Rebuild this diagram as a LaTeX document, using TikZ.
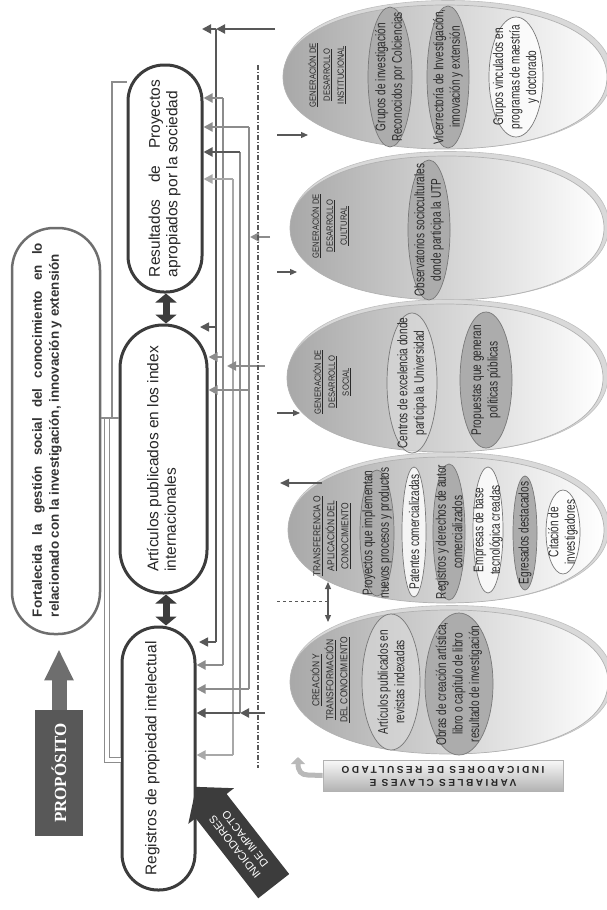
\documentclass[tikz,border=0pt]{standalone}
\usepackage{fontspec}
\setmainfont{Liberation Sans}
\newfontfamily\narrowf[FakeStretch=0.72]{Liberation Sans}
\newfontfamily\labelf[FakeStretch=0.85]{Liberation Sans}
\newfontfamily\serifbf{Liberation Serif}
\newfontfamily\spacedf[LetterSpace=25]{Liberation Sans}
\usetikzlibrary{arrows.meta,shapes.arrows}
\definecolor{dk}{HTML}{3C3C3C}
\definecolor{md}{HTML}{585858}
\definecolor{ln}{HTML}{8C8C8C}
\definecolor{lt}{HTML}{A8A8A8}
\definecolor{ingray}{HTML}{ACACAC}
\definecolor{inbord}{HTML}{787878}
\definecolor{propc}{HTML}{585858}
\definecolor{boxb}{HTML}{6E6E6E}
\definecolor{txt}{HTML}{2A2A2A}
\newcommand\fatell[5]{%
  \pgfmathsetmacro\fcx{#2}\pgfmathsetmacro\fcy{#3}%
  \pgfmathsetmacro\frx{#4}\pgfmathsetmacro\fry{#5}%
  \pgfmathsetmacro\fkx{0.6*\frx}\pgfmathsetmacro\fky{0.6*\fry}%
  \path[#1] (\fcx-\frx,\fcy)
    .. controls (\fcx-\frx,\fcy-\fky) and (\fcx-\fkx,\fcy-\fry) .. (\fcx,\fcy-\fry)
    .. controls (\fcx+\fkx,\fcy-\fry) and (\fcx+\frx,\fcy-\fky) .. (\fcx+\frx,\fcy)
    .. controls (\fcx+\frx,\fcy+\fky) and (\fcx+\fkx,\fcy+\fry) .. (\fcx,\fcy+\fry)
    .. controls (\fcx-\fkx,\fcy+\fry) and (\fcx-\frx,\fcy+\fky) .. (\fcx-\frx,\fcy) -- cycle;}
\newcommand\bigell[4]{%
  \fatell{fill=gray!30, draw=gray!50, line width=0.6pt}{#1+3}{#2-2.5}{#3+2}{#4+2}%
  \fatell{left color=gray!68, middle color=gray!14, right color=white, draw=gray!60, line width=0.7pt}{#1}{#2}{#3}{#4}}
\begin{document}
\begin{tikzpicture}[x=1pt,y=-1pt,
  mainbox/.style={draw=dk, line width=3pt, fill=white, inner sep=0pt, font=\fontsize{15.5}{17.5}\selectfont, text=black!85},
  bus/.style={draw=#1, line width=1.1pt}, bus/.default=ln,
  harrow/.style={draw=#1, line width=2pt, -{Triangle[length=9pt,width=9pt]}}, harrow/.default=ln,
  sarrow/.style={draw=md, line width=1.2pt, -{Triangle[length=7pt,width=6pt]}},
  ingr/.style={fill=ingray, draw=inbord, line width=0.7pt},
  inwh/.style={fill=white, fill opacity=0.8, draw=inbord, line width=0.7pt},
  inlt/.style={fill=gray!28, fill opacity=0.6, draw=inbord, line width=0.7pt},
  intext/.style={rotate=90, align=center, inner sep=0pt, text=txt, font=\narrowf\fontsize{14}{16.5}\selectfont},
  labtext/.style={rotate=90, align=center, inner sep=0pt, text=txt, font=\labelf\fontsize{#1}{14}\selectfont},
]
\useasboundingbox (0,0) rectangle (607,910);

% ---------- big ellipses ----------
\bigell{445}{77}{162}{72}
\bigell{447}{228}{157}{72}
\bigell{445}{378}{158}{74}
\bigell{446}{530}{158}{73}
\bigell{449}{682}{159}{72}

% ---------- inner ellipses ----------
\foreach \nm/\cx/\cy/\rx/\ry/\st/\tx in {
  e1/390/77/22/70/ingr/{Grupos de investigación\\Reconocidos por Colciencias},
  e2/448/77/21/71/ingr/{Vicerrectoría de Investigación,\\innovación y extensión},
  e3/516/77/27/60/inwh/{Grupos vinculados en\\programas de maestría\\y doctorado},
  e4/429/230/21/70/ingr/{Observatorios socioculturales\\donde participa la UTP},
  e5/412/383/25/70/inlt/{Centros de excelencia donde\\participa la Universidad},
  e6/486/380/26/68/ingr/{Propuestas que generan\\políticas públicas},
  e7/377/533/17/63/ingr/{Proyectos que implementan\\nuevos procesos y productos},
  e8/414/532/12/65/inwh/{Patentes comercializadas},
  e9/449/532/16/68/ingr/{Registros y derechos de autor\\comercializados},
  e10/488/530/15/63/inwh/{Empresas de base\\tecnológica creadas},
  e11/525/533/12/57/ingr/{Egresados destacados},
  e12/563/532/17/42/inwh/{Citación de\\investigadores},
  e13/391/682/29/68/inlt/{Artículos publicados en\\revistas indexadas},
  e14/459/684/34/71/ingr/{Obras de creación artística,\\libro o capítulo de libro\\resultado de investigación}}
{\draw[\st] (\cx,\cy) ellipse [x radius=\rx pt, y radius=\ry pt];
 \node[intext] (\nm) at (\cx,\cy) {\tx};}

% ---------- ellipse labels ----------
\node[labtext=9] (l1) at (327,75) {\underline{GENERACIÓN DE}\\\underline{DESARROLLO}\\\underline{INSTITUCIONAL}};
\node[labtext=9] (l2) at (330,226) {\underline{GENERACIÓN DE}\\\underline{DESARROLLO}\\\underline{CULTURAL}};
\node[labtext=9] (l3) at (332,382) {\underline{GENERACIÓN DE}\\\underline{DESARROLLO}\\\underline{SOCIAL}};
\node[labtext=10] (l4) at (332,536) {\underline{TRANSFERENCIA O}\\\underline{APLICACIÓN DEL}\\\underline{CONOCIMIENTO}};
\node[labtext=10] (l5) at (330,680) {\underline{CREACIÓN Y}\\\underline{TRANSFORMACIÓN}\\\underline{DEL CONOCIMIENTO}};

% ---------- main nodes ----------
\node[draw=boxb, line width=2.5pt, fill=white, rounded corners=42pt, minimum width=88pt, minimum height=406pt, inner sep=0pt] (fort) at (56,431) {};
\node[inner sep=0pt, text=black!80, font=\bfseries\fontsize{13.4}{17}\selectfont] (forttxt) at (47,430)
  {\rotatebox{90}{\begin{tabular}{@{}l@{}}\hbox to 374pt{Fortalecida\hfill la\hfill gestión\hfill social\hfill del\hfill conocimiento\hfill en\hfill lo}\\relacionado con la investigación, innovación y extensión\end{tabular}}};

\node[mainbox, minimum width=74pt, minimum height=227pt, rounded corners=36pt] (Res) at (165,178.5)
  {\rotatebox{90}{\begin{tabular}{@{}l@{}}\hbox to 197pt{Resultados\hfill de\hfill Proyectos}\\apropiados por la sociedad\end{tabular}}};
\node[mainbox, minimum width=87pt, minimum height=268pt, rounded corners=43pt] (Art) at (163.5,459)
  {\rotatebox{90}{\begin{tabular}{@{}l@{}}Artículos publicados en los index\\internacionales\end{tabular}}};
\node[mainbox, minimum width=73pt, minimum height=263pt, rounded corners=36pt] (Reg) at (158.5,758.5)
  {\rotatebox{90}{\begin{tabular}{@{}l@{}}Registros de propiedad intelectual\\[-6pt]\mbox{}\end{tabular}}};

\coordinate (ax) at (166,0);
\draw[line width=7pt, dk, {Triangle[length=9pt,width=21pt]}-{Triangle[length=9pt,width=21pt]}] (Res.south -| ax) -- (Art.north -| ax);
\draw[line width=7pt, dk, {Triangle[length=9pt,width=21pt]}-{Triangle[length=9pt,width=21pt]}] (Art.south -| ax) -- (Reg.north -| ax);

% ---------- purpose ----------
\node[fill=propc, minimum width=48pt, minimum height=126pt, inner sep=0pt, text=white, font=\serifbf\bfseries\fontsize{17}{20}\selectfont] (prop) at (59,773) {\rotatebox{90}{PROPÓSITO}};
\draw[line width=15pt, boxb, -{Triangle[length=31pt,width=27pt]}, shorten >=14pt] (prop.north) -- (prop.north |- fort.south);

% ---------- impact indicators arrow ----------
\node[single arrow, fill=dk, rotate=128, minimum height=126pt, minimum width=58pt, single arrow head extend=6pt, single arrow tip angle=100, inner sep=2pt, text=white, align=center, font=\fontsize{11}{13}\selectfont] (ind) at (240,843) {INDICADORES\\DE IMPACTO};

% ---------- key variables box ----------
\node[draw=gray!60, line width=0.8pt, top color=gray!5, bottom color=gray!60, minimum width=240pt, minimum height=31pt, inner sep=0pt, text=black!85, font=\spacedf\bfseries\fontsize{10}{13}\selectfont] (var) at (443,775.5)
  {\rotatebox{180}{\begin{tabular}{@{}c@{}}VARIABLES CLAVES E\\INDICADORES DE RESULTADO\end{tabular}}};
\coordinate (cv0) at (308,775);
\coordinate (cv1) at (298,757);
\draw[line width=5pt, gray!55, -{Triangle[length=7pt,width=14pt]}] (var.west) -- (cv0) .. controls (301,775) and (298,771) .. (cv1);

% ---------- left bracket ----------
\coordinate (br1) at (112,82);
\coordinate (br2) at (112,418);
\coordinate (br3) at (107,418);
\coordinate (br4) at (107,760);
\draw[bus=ln] (Res.west |- br1) -- (br1) -- (br2);
\draw[draw=ln, line width=0.8pt, double=white, double distance=3.5pt] (Reg.west |- br4) -- (br4) -- (br3);
\draw[bus=ln] (fort.east |- br2) -- (Art.west |- br2);

% ---------- right bus ----------
\coordinate (a29) at (216,29);  \coordinate (a327) at (216,327); \coordinate (a642) at (216,642);
\coordinate (b98) at (223,98);  \coordinate (b357) at (223,357); \coordinate (b665) at (223,665);
\coordinate (c179) at (233,179); \coordinate (c755) at (233,755);
\coordinate (d152) at (240,152); \coordinate (d713) at (240,713);
\coordinate (e127) at (249,127); \coordinate (e390) at (249,390); \coordinate (e689) at (249,689);
\draw[bus=md] (a29) -- (a642);
\draw[bus=ln] (b98) -- (b665);
\draw[bus=lt] (c179) -- (c755);
\draw[bus=ln] (d152) -- (d713);
\draw[bus=ln] (e127) -- (e689);

\draw[harrow=ln] (b98) -- (Res.east |- b98);
\draw[harrow=ln] (e127) -- (Res.east |- e127);
\draw[harrow=md] (d152) -- (Res.east |- d152);
\draw[harrow=lt] (c179) -- (Res.east |- c179);
\draw[harrow=ln] (b357) -- (Art.east |- b357);
\draw[harrow=ln] (e390) -- (Art.east |- e390);
\draw[harrow=ln] (b665) -- (Reg.east |- b665);
\draw[harrow=ln] (e689) -- (Reg.east |- e689);
\draw[harrow=lt] (c755) -- (Reg.east |- c755);

\coordinate (f29) at (202,29); \coordinate (f327) at (200,327); \coordinate (f642) at (199,642);
\draw[harrow=md] (a29) -- (f29);
\draw[harrow=md, line width=1.5pt] (a327) -- (f327);
\draw[harrow=md, line width=1.5pt] (a642) -- (f642);

\coordinate (r29) at (275,29);   \draw[harrow=md] (r29) -- (a29);
\coordinate (r237) at (270,237); \coordinate (q237) at (250,237); \draw[harrow=ln] (r237) -- (q237);
\coordinate (r366) at (265,366); \coordinate (q366) at (227,366); \draw[harrow=ln] (r366) -- (q366);
\coordinate (r713) at (265,713);
\draw[harrow=md, line width=2.4pt] (r713) -- (d713);
\draw[harrow=md, line width=2.4pt] (d713) -- (Reg.east |- d713);

% ---------- dash-dot separator ----------
\coordinate (dd1) at (258,65); \coordinate (dd2) at (258,768);
\draw[md, line width=1.2pt, dash pattern=on 5pt off 2pt on 1pt off 2pt] (dd1) -- (dd2);

% ---------- pointers to ellipses ----------
\coordinate (p135) at (277,135); \coordinate (i135) at (308,135); \draw[sarrow] (p135) -- (i135);
\coordinate (p272) at (277,272); \coordinate (i272) at (297,272); \draw[sarrow] (p272) -- (i272);
\coordinate (p413) at (277,413); \coordinate (i413) at (300,413); \draw[sarrow] (p413) -- (i413);
\coordinate (p483) at (322,483); \coordinate (i483) at (280,483); \draw[sarrow, line width=1.8pt, -{Triangle[length=9pt,width=8pt]}] (p483) -- (i483);
\coordinate (ds1) at (277,601); \coordinate (ds2) at (328,601);
\draw[md, line width=1pt, dashed] (ds1) -- (ds2);
\coordinate (v1) at (328,582); \coordinate (v2) at (328,622);
\draw[md, line width=1.2pt, {Triangle[length=7pt,width=6pt]}-{Triangle[length=7pt,width=6pt]}] (v1) -- (v2);
\end{tikzpicture}
\end{document}
